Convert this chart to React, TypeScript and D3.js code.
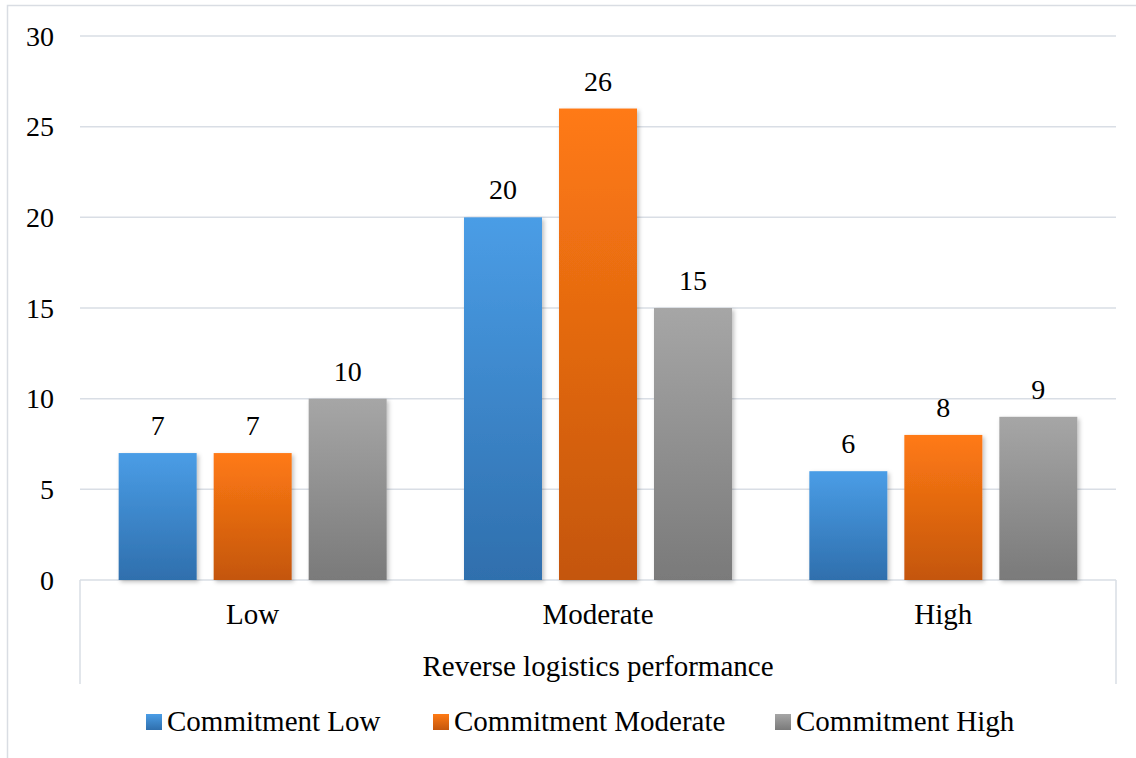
import React from "react";
import * as d3 from "d3";

// categories on the x axis
const categories = ["Low", "Moderate", "High"];
const seriesNames = ["Commitment Low", "Commitment Moderate", "Commitment High"];
// values per series, in category order
const commitmentLow = [7, 20, 6];
const commitmentModerate = [7, 26, 8];
const commitmentHigh = [10, 15, 9];
const yTicks = [0, 5, 10, 15, 20, 25, 30];
const axisTitle = "Reverse logistics performance";

const seriesValues = [commitmentLow, commitmentModerate, commitmentHigh];
const gradients = [
  ["#4a9de6", "#2f6fad"],
  ["#ff7a14", "#c4560c"],
  ["#a6a6a6", "#7a7a7a"],
];

const W = 1136;
const H = 758;
const font = "'Liberation Serif', 'Times New Roman', serif";
const fs = 29;

export default function App() {
  const x = d3.scaleBand<string>().domain(categories).range([80, 1116]);
  const xs = d3
    .scaleBand<string>()
    .domain(seriesNames)
    .range([0, x.bandwidth()])
    .paddingInner(0.179)
    .paddingOuter(0.407);
  const y = d3.scaleLinear().domain([0, 30]).range([580, 36]);

  const legendX = [146, 433, 775];

  return (
    <svg
      width={W}
      height={H}
      style={{ position: "absolute", left: 0, top: 0, background: "#fff" }}
      fontFamily={font}
    >
      <defs>
        {gradients.map((g, i) => (
          <linearGradient key={i} id={`grad${i}`} x1="0" y1="0" x2="0" y2="1">
            <stop offset="0" stopColor={g[0]} />
            <stop offset="1" stopColor={g[1]} />
          </linearGradient>
        ))}
        <filter id="shadow" x="-10%" y="-10%" width="130%" height="130%">
          <feDropShadow dx="2" dy="2" stdDeviation="2" floodColor="#000" floodOpacity="0.25" />
        </filter>
      </defs>

      {/* outer frame */}
      <rect x={7.5} y={5.5} width={W} height={H} fill="none" stroke="#d9dde3" strokeWidth={1.5} />

      {/* gridlines and y labels */}
      {yTicks.map((t) => (
        <g key={t}>
          <line x1={80} x2={1116} y1={y(t)} y2={y(t)} stroke="#d9dee5" strokeWidth={1.5} />
          <text x={54} y={y(t)} dy="0.35em" textAnchor="end" fontSize={28} fill="#000">
            {t}
          </text>
        </g>
      ))}

      {/* category axis box sides */}
      <line x1={80} x2={80} y1={y(0)} y2={684} stroke="#d9dee5" strokeWidth={1.5} />
      <line x1={1116} x2={1116} y1={y(0)} y2={684} stroke="#d9dee5" strokeWidth={1.5} />

      {/* bars */}
      {categories.map((c, ci) => (
        <g key={c} transform={`translate(${x(c)},0)`}>
          {seriesNames.map((s, si) => {
            const v = seriesValues[si][ci];
            const bx = xs(s)!;
            return (
              <g key={s}>
                <rect
                  x={bx}
                  y={y(v)}
                  width={xs.bandwidth()}
                  height={y(0) - y(v)}
                  fill={`url(#grad${si})`}
                  filter="url(#shadow)"
                />
                <text
                  x={bx + xs.bandwidth() / 2}
                  y={y(v) - 18}
                  textAnchor="middle"
                  fontSize={28}
                  fill="#000"
                >
                  {v}
                </text>
              </g>
            );
          })}
          <text
            x={x.bandwidth() / 2}
            y={624}
            textAnchor="middle"
            fontSize={fs}
            fill="#000"
          >
            {c}
          </text>
        </g>
      ))}

      <text x={598} y={676} textAnchor="middle" fontSize={fs} fill="#000">
        {axisTitle}
      </text>

      {/* legend */}
      {seriesNames.map((s, i) => (
        <g key={s} transform={`translate(${legendX[i]},714)`}>
          <rect width={16} height={16} fill={`url(#grad${i})`} />
          <text x={21} y={17} fontSize={fs} fill="#000">
            {s}
          </text>
        </g>
      ))}
    </svg>
  );
}
